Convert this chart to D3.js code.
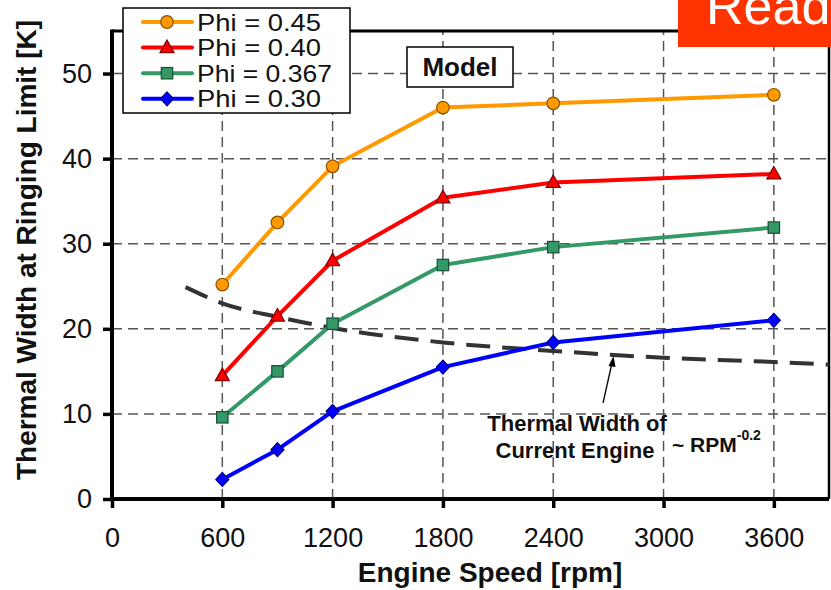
<!DOCTYPE html>
<html><head><meta charset="utf-8">
<script src="https://cdn.jsdelivr.net/npm/d3@7"></script>
<style>body{margin:0;background:#fff;}svg{display:block;font-family:"Liberation Sans",Arial,sans-serif;}</style>
</head><body><svg id="c" width="831" height="590"></svg>
<script>
const rpm = [600, 900, 1200, 1800, 2400, 3600];
const phi045 = [25.2, 32.5, 39.1, 46.0, 46.5, 47.5];
const phi040 = [14.5, 21.5, 28.0, 35.4, 37.2, 38.2];
const phi0367 = [9.6, 15.0, 20.6, 27.5, 29.6, 31.9];
const phi030 = [2.3, 5.8, 10.3, 15.5, 18.4, 21.0];
const seriesNames = ["Phi = 0.45", "Phi = 0.40", "Phi = 0.367", "Phi = 0.30"];
const currentRpm = [400, 600, 900, 1200, 1800, 2400, 3000, 3600, 3900];
const currentWidth = [24.9, 23.0, 21.4, 20.1, 18.4, 17.4, 16.6, 16.1, 15.8];
const xTicks = [0, 600, 1200, 1800, 2400, 3000, 3600];
const yTicks = [0, 10, 20, 30, 40, 50];
const xGrid = [600, 1200, 1800, 2400, 3000, 3600];
const yGrid = [10, 20, 30, 40, 50];

const svg = d3.select("#c");
const x = d3.scaleLinear([0, 3900], [112, 829]);
const y = d3.scaleLinear([0, 55], [499, 31]);

const series = [
  {name: seriesNames[0], vals: phi045, color: "#FF9900", stroke: "#8a5200", shape: "circle"},
  {name: seriesNames[1], vals: phi040, color: "#FF0000", stroke: "#800000", shape: "triangle"},
  {name: seriesNames[2], vals: phi0367, color: "#339966", stroke: "#1a4d33", shape: "square"},
  {name: seriesNames[3], vals: phi030, color: "#0000FF", stroke: "#000080", shape: "diamond"}
];

// grid
const grid = svg.append("g").attr("stroke", "#555").attr("stroke-width", 1.5).attr("stroke-dasharray", "10,6");
grid.selectAll(".gx").data(xGrid).join("line")
  .attr("x1", d => x(d)).attr("x2", d => x(d)).attr("y1", y(0)).attr("y2", y(55));
grid.selectAll(".gy").data(yGrid).join("line")
  .attr("y1", d => y(d)).attr("y2", d => y(d)).attr("x1", x(0)).attr("x2", x(3900));

// axes
const ya = svg.append("g").attr("transform", `translate(${x(0)},0)`)
  .call(d3.axisLeft(y).tickValues(yTicks).tickSize(9).tickPadding(11).tickFormat(d3.format("d")));
ya.select(".domain").remove();
ya.selectAll(".tick line").attr("stroke", "#000").attr("stroke-width", 3.5);
ya.selectAll(".tick text").attr("font-size", 27).attr("fill", "#111").attr("font-family", "Liberation Sans, Arial, sans-serif");

const xa = svg.append("g").attr("transform", `translate(0,${y(0)})`)
  .call(d3.axisBottom(x).tickValues(xTicks).tickSize(9).tickPadding(20).tickFormat(d3.format("d")));
xa.select(".domain").remove();
xa.selectAll(".tick line").attr("stroke", "#000").attr("stroke-width", 3.5);
xa.selectAll(".tick text").attr("font-size", 27).attr("fill", "#111").attr("font-family", "Liberation Sans, Arial, sans-serif");

// frame
svg.append("line").attr("x1", x(0)).attr("x2", x(3900)).attr("y1", y(55)).attr("y2", y(55)).attr("stroke", "#000").attr("stroke-width", 3);
svg.append("line").attr("x1", x(3900)).attr("x2", x(3900)).attr("y1", y(55)).attr("y2", y(0)).attr("stroke", "#000").attr("stroke-width", 2.5);
svg.append("line").attr("x1", x(0)).attr("x2", x(0)).attr("y1", y(55) - 1.5).attr("y2", y(0) + 2).attr("stroke", "#000").attr("stroke-width", 4);
svg.append("line").attr("x1", x(0) - 2).attr("x2", x(3900)).attr("y1", y(0)).attr("y2", y(0)).attr("stroke", "#000").attr("stroke-width", 4);

// current engine dashed curve
svg.append("path")
  .datum(currentRpm.map((r, i) => [r, currentWidth[i]]))
  .attr("d", d3.line().x(d => x(d[0])).y(d => y(d[1])).curve(d3.curveMonotoneX))
  .attr("fill", "none").attr("stroke", "#333").attr("stroke-width", 4).attr("stroke-dasharray", "24,12");

// series
const line = d3.line().x(d => x(d[0])).y(d => y(d[1]));
function drawMarker(g, s, cx, cy) {
  let p;
  if (s.shape === "circle") {
    p = g.append("circle").attr("cx", cx).attr("cy", cy).attr("r", 6.3);
  } else if (s.shape === "triangle") {
    p = g.append("path").attr("d", `M${cx},${cy - 7.5} L${cx + 7},${cy + 5} L${cx - 7},${cy + 5} Z`);
  } else if (s.shape === "square") {
    p = g.append("rect").attr("x", cx - 5.7).attr("y", cy - 5.7).attr("width", 11.4).attr("height", 11.4);
  } else {
    p = g.append("path").attr("d", `M${cx},${cy - 7} L${cx + 6.5},${cy} L${cx},${cy + 7} L${cx - 6.5},${cy} Z`);
  }
  p.attr("fill", s.color).attr("stroke", s.stroke).attr("stroke-width", 1.2);
}
series.forEach(s => {
  const pts = rpm.map((r, i) => [r, s.vals[i]]);
  svg.append("path").datum(pts).attr("d", line).attr("fill", "none")
    .attr("stroke", s.color).attr("stroke-width", 4).attr("stroke-linejoin", "round");
  const g = svg.append("g");
  pts.forEach(p => drawMarker(g, s, x(p[0]), y(p[1])));
});

// legend
const lg = svg.append("g");
lg.append("rect").attr("x", 123).attr("y", 8).attr("width", 227).attr("height", 105)
  .attr("fill", "#fff").attr("stroke", "#000").attr("stroke-width", 1.5);
const lw = [124, 124, 135, 124];
series.forEach((s, i) => {
  const cy = 22 + i * 25.6;
  lg.append("line").attr("x1", 143).attr("x2", 192).attr("y1", cy).attr("y2", cy)
    .attr("stroke", s.color).attr("stroke-width", 4).attr("stroke-linecap", "round");
  drawMarker(lg, s, 167, cy);
  lg.append("text").attr("x", 197).attr("y", cy + 8.5).attr("font-size", 24).attr("fill", "#111")
    .attr("textLength", lw[i]).attr("lengthAdjust", "spacingAndGlyphs").text(s.name);
});

// Model box
svg.append("rect").attr("x", 407).attr("y", 47).attr("width", 106).attr("height", 40)
  .attr("fill", "#fff").attr("stroke", "#000").attr("stroke-width", 1.5);
svg.append("text").attr("x", 460).attr("y", 76).attr("text-anchor", "middle")
  .attr("font-size", 26).attr("font-weight", "bold").attr("fill", "#111").text("Model");

// annotation
svg.append("line").attr("x1", 603).attr("y1", 403).attr("x2", 612).attr("y2", 363)
  .attr("stroke", "#000").attr("stroke-width", 1.3);
svg.append("path").attr("d", "M613.5,356 L608.5,366 L615.5,367 Z").attr("fill", "#000");
svg.append("text").attr("x", 577).attr("y", 431).attr("text-anchor", "middle")
  .attr("font-size", 22).attr("font-weight", "bold").attr("fill", "#111").text("Thermal Width of");
svg.append("text").attr("x", 575).attr("y", 458).attr("text-anchor", "middle")
  .attr("font-size", 22).attr("font-weight", "bold").attr("fill", "#111").text("Current Engine");
const rt = svg.append("text").attr("x", 672).attr("y", 452).attr("font-size", 21).attr("font-weight", "bold").attr("fill", "#111");
rt.append("tspan").text("~ RPM");
rt.append("tspan").attr("dy", -12).attr("font-size", 14).text("-0.2");

// axis titles
svg.append("text").attr("x", 490).attr("y", 582).attr("text-anchor", "middle")
  .attr("font-size", 28).attr("font-weight", "bold").attr("fill", "#111").text("Engine Speed [rpm]");
svg.append("text").attr("transform", "translate(36,250) rotate(-90)").attr("text-anchor", "middle")
  .attr("font-size", 28).attr("font-weight", "bold").attr("fill", "#111").text("Thermal Width at Ringing Limit [K]");

// red banner (text is cropped by the page edge, as in the reference)
svg.append("rect").attr("x", 678).attr("y", -2).attr("width", 160).attr("height", 49).attr("fill", "#FF3300");
svg.append("text").attr("x", 706).attr("y", 24).attr("font-size", 52).attr("fill", "#fff").text("Read");
</script></body></html>
